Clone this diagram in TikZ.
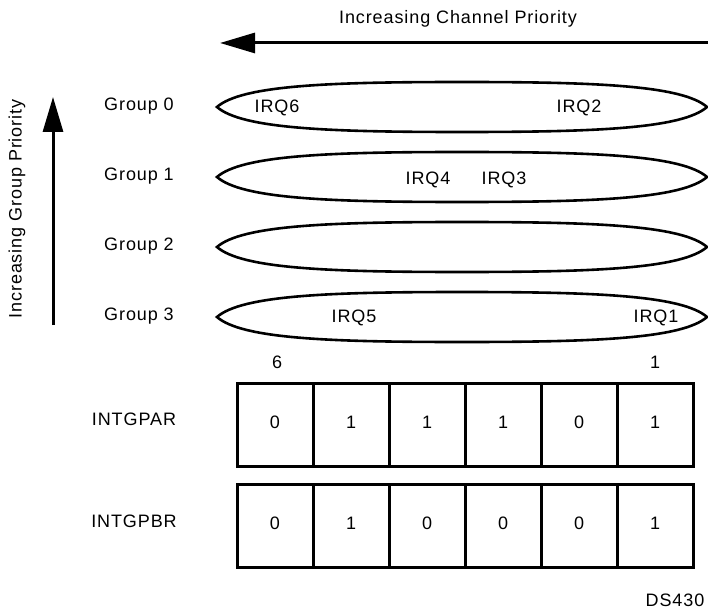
\documentclass[tikz,border=0pt]{standalone}
\usepackage{fontspec}
\setmainfont{Liberation Sans}[LetterSpace=5]
\usetikzlibrary{arrows.meta}

% one group: a long lens with pointed ends, centred at x=462
\newcommand{\grouplens}[1]{%
	\draw[lens] (217,#1) .. controls (242,#1-22) and (332,#1-25) .. (462,#1-25)
		.. controls (592,#1-25) and (682,#1-22) .. (707,#1)
		.. controls (682,#1+22) and (592,#1+25) .. (462,#1+25)
		.. controls (332,#1+25) and (242,#1+22) .. cycle;}

\begin{document}
\begin{tikzpicture}[x=1pt,y=-1pt,
	every node/.style={font=\fontsize{18}{21}\selectfont,text height=0.716em,text depth=0pt},
	prio/.style={line width=3pt,-{Triangle[length=35pt,width=20pt]}},
	lens/.style={line width=2.6pt},
	cell/.style={draw,line width=3pt,minimum width=76pt,minimum height=83pt,inner sep=0pt}]

	\useasboundingbox (0,0) rectangle (708,612);

	% priority arrows
	\coordinate (chR) at (708,43);
	\coordinate (chL) at (220,43);
	\draw[prio] (chR) -- (chL);
	\node (chtext) at (458,20) {Increasing Channel Priority};

	\coordinate (grB) at (53,325);
	\coordinate (grT) at (53,97);
	\draw[prio] (grB) -- (grT);
	\node[rotate=90] (grtext) at (18,209) {Increasing Group Priority};

	% groups
	\foreach \g/\y in {0/107,1/177,2/247,3/317}{
		\node (lab\g) at (139,\y) {Group \g};
		\grouplens{\y}
	}

	% channels in the groups
	\node (irq6) at (277,109) {IRQ6};
	\node (irq2) at (579,109) {IRQ2};
	\node (irq4) at (428,181) {IRQ4};
	\node (irq3) at (504,181) {IRQ3};
	\node (irq5) at (354,319) {IRQ5};
	\node (irq1) at (656,319) {IRQ1};

	% registers
	\node (bit6) at (277,365) {6};
	\node (bit1) at (655,365) {1};

	\node (intgpar) at (134,422) {INTGPAR};
	\foreach \v [count=\i] in {0,1,1,1,0,1}
		\node[cell] (a\i) at (199+76*\i,424.5) {\v};

	\node (intgpbr) at (134,524) {INTGPBR};
	\foreach \v [count=\i] in {0,1,0,0,0,1}
		\node[cell] (b\i) at (199+76*\i,525.5) {\v};

	\node (ds) at (675,603) {DS430};

\end{tikzpicture}
\end{document}
